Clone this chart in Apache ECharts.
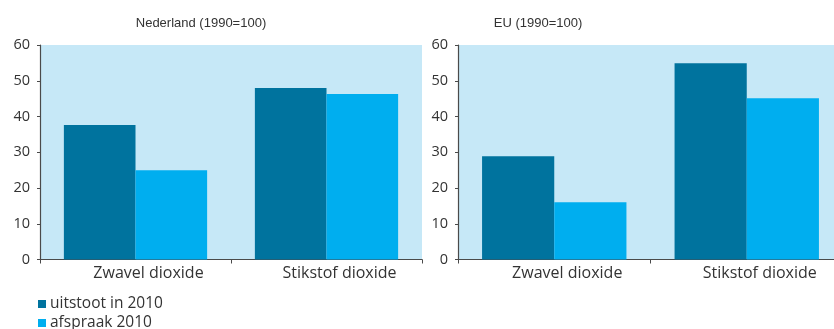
<!DOCTYPE html>
<html>
<head>
<meta charset="utf-8">
<script src="https://cdn.jsdelivr.net/npm/echarts@6/dist/echarts.min.js"></script>
<style>
  html, body { margin: 0; padding: 0; background: #ffffff; }
  #chart { width: 834px; height: 329px; }
</style>
</head>
<body>
<div id="chart"></div>
<script>
// Emissions relative to 1990 (1990 = 100)
const categories = ['Zwavel dioxide', 'Stikstof dioxide'];
const panelTitles = ['Nederland (1990=100)', 'EU (1990=100)'];
const seriesNames = ['uitstoot in 2010', 'afspraak 2010'];
const nlUitstoot = [37.6, 48.0];
const nlAfspraak = [25.0, 46.3];
const euUitstoot = [28.9, 54.9];
const euAfspraak = [16.0, 45.1];
const yTicks = [0, 10, 20, 30, 40, 50, 60];

const darkBlue = '#00739e';
const lightBlue = '#00aeef';
const plotBg = '#c6e8f7';
const axisColor = '#4a4a4a';
const textColor = '#333333';
const bodyFont = '"Open Sans", "Liberation Sans", Arial, sans-serif';
const titleFont = '"Liberation Sans", Arial, sans-serif';

const grids = [
  { left: 40, width: 382, top: 45, height: 214.5 },
  { left: 458, width: 385, top: 45, height: 214.5 }
].map(g => Object.assign({ show: true, backgroundColor: plotBg, borderWidth: 0, outerBoundsMode: 'none' }, g));

function xAxisFor(i) {
  return {
    type: 'category', gridIndex: i, data: categories,
    axisLine: { lineStyle: { color: axisColor, width: 1.2 } },
    axisTick: { show: true, length: 4, lineStyle: { color: axisColor } },
    // labels sit slightly right of the band centre
    axisLabel: { color: textColor, fontSize: 16, fontFamily: bodyFont, margin: 6, padding: [0, 0, 0, 26] },
    splitLine: { show: false }
  };
}
function yAxisFor(i) {
  return {
    type: 'value', gridIndex: i, min: yTicks[0], max: yTicks[yTicks.length - 1], interval: 10,
    axisLine: { show: true, lineStyle: { color: axisColor, width: 1.2 } },
    axisTick: { show: true, length: 3, lineStyle: { color: axisColor } },
    axisLabel: { color: textColor, fontSize: 14.5, fontFamily: bodyFont, margin: 10 },
    splitLine: { show: false }
  };
}
function barSeries(name, data, i, color) {
  return {
    name: name, type: 'bar', xAxisIndex: i, yAxisIndex: i, data: data,
    barGap: 0, barCategoryGap: '25%',
    itemStyle: { color: color },
    emphasis: { disabled: true }
  };
}
function legendFor(name, top) {
  return {
    data: [name], orient: 'vertical', left: 38, top: top,
    itemWidth: 8, itemHeight: 8, itemGap: 0, icon: 'rect', padding: 0,
    textStyle: { fontSize: 15.5, color: textColor, fontFamily: bodyFont, padding: [0, 0, 0, -1] }
  };
}

const chart = echarts.init(document.getElementById('chart'), null, { renderer: 'canvas' });
chart.setOption({
  animation: false,
  backgroundColor: '#ffffff',
  title: [
    { text: panelTitles[0], left: 196, top: 12, textAlign: 'center',
      textStyle: { fontSize: 13, fontWeight: 'normal', color: textColor, fontFamily: titleFont } },
    { text: panelTitles[1], left: 533, top: 12, textAlign: 'center',
      textStyle: { fontSize: 13, fontWeight: 'normal', color: textColor, fontFamily: titleFont } }
  ],
  legend: [legendFor(seriesNames[0], 296), legendFor(seriesNames[1], 315)],
  grid: grids,
  xAxis: [xAxisFor(0), xAxisFor(1)],
  yAxis: [yAxisFor(0), yAxisFor(1)],
  series: [
    barSeries(seriesNames[0], nlUitstoot, 0, darkBlue),
    barSeries(seriesNames[1], nlAfspraak, 0, lightBlue),
    barSeries(seriesNames[0], euUitstoot, 1, darkBlue),
    barSeries(seriesNames[1], euAfspraak, 1, lightBlue)
  ]
});
</script>
</body>
</html>
